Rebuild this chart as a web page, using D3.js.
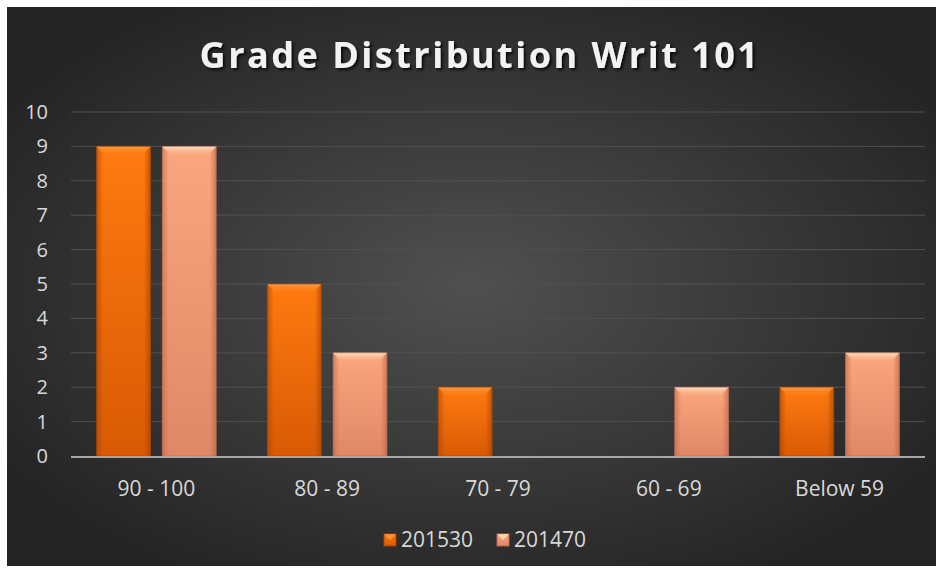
<!DOCTYPE html>
<html><head><meta charset="utf-8">
<script src="https://cdn.jsdelivr.net/npm/d3@7"></script>
<style>html,body{margin:0;padding:0;background:#fff;}svg{display:block;}</style>
</head><body>
<script>
const categories = ["90 - 100", "80 - 89", "70 - 79", "60 - 69", "Below 59"];
const seriesNames = ["201530", "201470"];
const values201530 = [9, 5, 2, 0, 2];
const values201470 = [9, 3, 0, 2, 3];
const yTicks = [0,1,2,3,4,5,6,7,8,9,10];
const title = "Grade Distribution Writ 101";

const W = 943, H = 573;
const svg = d3.select("body").append("svg").attr("width", W).attr("height", H);
const defs = svg.append("defs");

const bg = defs.append("radialGradient").attr("id","bg").attr("cx","50%").attr("cy","50%").attr("r","60%");
bg.append("stop").attr("offset","0%").attr("stop-color","#505050");
bg.append("stop").attr("offset","100%").attr("stop-color","#242424");

const colors = [
  {id:"g0", top:"#ff7a10", bot:"#d85a04", edge:"#a84200", light:"#ff9a40"},
  {id:"g1", top:"#fba67e", bot:"#e08866", edge:"#b8694c", light:"#ffe0c0"}
];
colors.forEach(c=>{
  const g = defs.append("linearGradient").attr("id",c.id).attr("x1",0).attr("y1",0).attr("x2",0).attr("y2",1);
  g.append("stop").attr("offset","0%").attr("stop-color",c.top);
  g.append("stop").attr("offset","100%").attr("stop-color",c.bot);
  const h = defs.append("linearGradient").attr("id",c.id+"h").attr("x1",0).attr("y1",0).attr("x2",1).attr("y2",0);
  h.append("stop").attr("offset","0%").attr("stop-color",c.edge).attr("stop-opacity",0.6);
  h.append("stop").attr("offset","12%").attr("stop-color",c.edge).attr("stop-opacity",0);
  h.append("stop").attr("offset","88%").attr("stop-color",c.edge).attr("stop-opacity",0);
  h.append("stop").attr("offset","100%").attr("stop-color",c.edge).attr("stop-opacity",0.7);
  const b = defs.append("linearGradient").attr("id",c.id+"b").attr("x1",0).attr("y1",0).attr("x2",0).attr("y2",1);
  b.append("stop").attr("offset","0%").attr("stop-color",c.light).attr("stop-opacity",1);
  b.append("stop").attr("offset","100%").attr("stop-color",c.top).attr("stop-opacity",0.3);
});
const shadow = defs.append("filter").attr("id","ts").attr("x","-10%").attr("y","-30%").attr("width","120%").attr("height","160%");
shadow.append("feDropShadow").attr("dx",2).attr("dy",2).attr("stdDeviation",1.5).attr("flood-color","#000").attr("flood-opacity",0.8);

svg.append("rect").attr("x",7).attr("y",7).attr("width",929).attr("height",559).attr("fill","url(#bg)");

svg.append("text").attr("x",480).attr("y",68).attr("text-anchor","middle")
  .attr("font-family","Open Sans, Lato, sans-serif").attr("font-weight","bold").attr("font-size",36)
  .attr("letter-spacing",2.5).attr("fill","#f2f2f2").attr("filter","url(#ts)").text(title);

const margin = {left:71, right:925, top:112, bottom:456};
const x0 = d3.scaleBand().domain(categories).range([margin.left, margin.right]).paddingInner(0.3).paddingOuter(0.15);
const x1 = d3.scaleBand().domain(seriesNames).range([0, x0.bandwidth()]).paddingInner(0.18);
const y = d3.scaleLinear().domain([0,10]).range([margin.bottom, margin.top]);

const font = "Open Sans, Lato, sans-serif";
svg.append("g").selectAll("line").data(yTicks.filter(t=>t>0)).join("line")
  .attr("x1",margin.left).attr("x2",margin.right).attr("y1",d=>y(d)).attr("y2",d=>y(d))
  .attr("stroke","#505050").attr("stroke-width",1);

svg.append("g").selectAll("text").data(yTicks).join("text")
  .attr("x",48).attr("y",d=>y(d)).attr("dy","0.35em").attr("text-anchor","end")
  .attr("font-family",font).attr("font-size",20).attr("fill","#d9d9d9").text(d=>d);

const data = categories.map((c,i)=>({cat:c, vals:[values201530[i], values201470[i]]}));
const groups = svg.append("g").selectAll("g").data(data).join("g")
  .attr("transform",d=>`translate(${x0(d.cat)},0)`);
groups.each(function(d){
  const g = d3.select(this);
  d.vals.forEach((v,si)=>{
    if(v<=0) return;
    const bx = x1(seriesNames[si]), bw = x1.bandwidth();
    const top = y(v), h = y(0)-y(v);
    const c = colors[si];
    g.append("rect").attr("x",bx).attr("y",top).attr("width",bw).attr("height",h).attr("fill",`url(#${c.id})`);
    g.append("rect").attr("x",bx).attr("y",top).attr("width",bw).attr("height",h).attr("fill",`url(#${c.id}h)`);
    g.append("path").attr("d",`M${bx},${top} L${bx+bw},${top} L${bx+bw-8},${top+9} L${bx+8},${top+9} Z`)
      .attr("fill",`url(#${c.id}b)`);
    g.append("rect").attr("x",bx).attr("y",top).attr("width",bw).attr("height",h).attr("fill","none")
      .attr("stroke",c.edge).attr("stroke-width",1).attr("opacity",0.6);
  });
});

svg.append("line").attr("x1",margin.left).attr("x2",margin.right).attr("y1",y(0)+1).attr("y2",y(0)+1)
  .attr("stroke","#a6a6a6").attr("stroke-width",2);

svg.append("g").selectAll("text").data(categories).join("text")
  .attr("x",d=>x0(d)+x0.bandwidth()/2).attr("y",496).attr("text-anchor","middle")
  .attr("font-family",font).attr("font-size",21).attr("fill","#d9d9d9").text(d=>d);

const leg = [{x:384, tx:401},{x:497, tx:514}];
seriesNames.forEach((s,i)=>{
  const c = colors[i];
  svg.append("rect").attr("x",leg[i].x).attr("y",534).attr("width",12).attr("height",12).attr("fill",`url(#${c.id})`).attr("stroke",c.edge).attr("stroke-width",1);
  svg.append("path").attr("d",`M${leg[i].x},534 L${leg[i].x+12},534 L${leg[i].x+6},540 Z`).attr("fill",c.light).attr("opacity",0.8);
  svg.append("text").attr("x",leg[i].tx).attr("y",540).attr("dy","0.35em")
    .attr("font-family",font).attr("font-size",21).attr("fill","#d9d9d9").text(s);
});
</script>
</body></html>
